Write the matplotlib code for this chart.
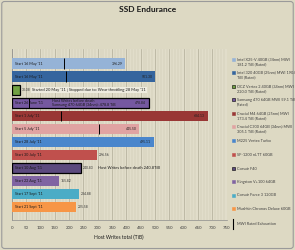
import numpy as np
import matplotlib.pyplot as plt
from matplotlib.patches import Rectangle, FancyBboxPatch
from matplotlib.lines import Line2D

plt.rcParams['font.family'] = ['Lato', 'DejaVu Sans']

# data
drives = ['Intel X25-V 40GB (34nm) MWI\n181.2 TiB (Rated)',
          'Intel 320 40GB (25nm) MWI 190.0\nTiB (Rated)',
          'OCZ Vertex 2 40GB (34nm) MWI\n220.0 TiB (Rated)',
          'Samsung 470 64GB MWI 59.1 TiB\n(Rated)',
          'Crucial M4 64GB (25nm) MWI\n173.4 TiB (Rated)',
          'Crucial C300 64GB (34nm) MWI\n305.1 TiB (Rated)',
          'M225 Vertex Turbo',
          'SF-1200 nLTT 60GB',
          'Corsair F40',
          'Kingston V+100 64GB',
          'Corsair Force 3 120GB',
          'Mushkin Chronos Deluxe 60GB']
starts = ["Start 16 May '11", "Start 16 May '11", "", "Start 26 June '11",
          "Start 1 July '11", "Start 5 July '11", "Start 28 July '11",
          "Start 30 July '11", "Start 10 Aug '11", "Start 22 Aug '11",
          "Start 17 Sept '11", "Start 21 Sept '11"]
host_writes = [396.29, 501.30, 30.08, 478.84, 684.13, 445.50, 495.11,
               296.56, 240.83, 165.82, 234.88, 225.58]
mwi_rated = [181.2, 190.0, None, 59.1, 173.4, 305.1, None, None, None, None, None, None]
colors = ['#95B3D7', '#35659E', '#71A243', '#7558A0', '#993735', '#E0A3A2',
          '#4A86CC', '#C0504D', '#5C4A7E', '#8064A2', '#4BACC6', '#F79646']
edges = [None, None, 'black', 'black', None, None, None, None, 'black', None, None, None]
inside_label = [True, True, False, True, True, True, True, False, False, False, False, False]

bg = '#DDD9C3'
fig = plt.figure(figsize=(2.95, 2.5), dpi=100, facecolor=bg)
fig.patches.append(FancyBboxPatch((0.006, 0.006), 0.988, 0.988, boxstyle='round,pad=0,rounding_size=0.01',
                                  transform=fig.transFigure, fill=False, edgecolor='#9A9A9A', lw=0.8))
ax = fig.add_axes([0.0397, 0.12, 0.729, 0.684])
ax.set_facecolor('#E1DDCA')

y = np.arange(len(drives))
for i in y:
    ec = edges[i] if edges[i] else 'none'
    ax.barh(i, host_writes[i], height=0.84, color=colors[i], edgecolor=ec,
            linewidth=0.9 if edges[i] else 0, zorder=3)
    if mwi_rated[i] is not None:
        ax.vlines(mwi_rated[i], i - 0.42, i + 0.42, color='black', lw=0.7, zorder=4)
    if starts[i]:
        ax.text(10, i, starts[i], fontsize=2.7, va='center', ha='left', color='#1a1a1a', zorder=5)
    lab = '%.2f' % host_writes[i]
    if inside_label[i]:
        ax.text(host_writes[i] - 10, i, lab, fontsize=2.5, va='center', ha='right', color='#222222', zorder=5)
    else:
        ax.text(host_writes[i] + 6, i, lab, fontsize=2.4, va='center', ha='left', color='#333333', zorder=5)

# annotations
ax.text(70, 2, "Started 20 May '11 | Stopped due to: Wear throttling 28 May '11", fontsize=2.9,
        va='center', ha='left', color='#1a1a1a', zorder=5,
        bbox=dict(boxstyle='square,pad=0.3', facecolor='#EEEBDF', edgecolor='none'))
ax.text(140, 3, "Host Writes before death\nSamsung 470 64GB (34nm): 478.8 TiB", fontsize=2.7,
        va='center', ha='left', color='#1a1a1a', zorder=5, linespacing=1.3)
ax.text(300, 8, "Host Writes before death 240.8TiB", fontsize=2.9,
        va='center', ha='left', color='#1a1a1a', zorder=5)

ax.set_xlim(0, 750)
ax.set_ylim(12.0, -1.15)
ax.set_yticks([])
ax.set_xticks(np.arange(0, 751, 50))
ax.set_xticks(np.arange(0, 751, 10), minor=True)
ax.grid(axis='x', which='minor', color='#CBC7B1', lw=0.35, zorder=0)
ax.grid(axis='x', which='major', color='#B4B09C', lw=0.55, zorder=0)
ax.tick_params(axis='x', which='both', length=0, labelsize=3.2, labelcolor='#404040', pad=4)
for s in ['top', 'right']:
    ax.spines[s].set_visible(False)
ax.spines['left'].set_color('#8C8C8C')
ax.spines['left'].set_linewidth(0.5)
ax.spines['bottom'].set_color('#8C8C8C')
ax.spines['bottom'].set_linewidth(0.5)
ax.set_xlabel('Host Writes total (TiB)', fontsize=3.6, color='#1a1a1a', labelpad=4)

fig.text(0.5, 0.963, 'SSD Endurance', fontsize=6, fontweight='bold', ha='center', va='center', color='#1a1a1a')

# legend
leg_y = [59, 72, 86, 99, 113, 126, 140, 154, 168, 181, 195, 208]
for i, name in enumerate(drives):
    yy = 1 - leg_y[i] / 250
    fig.patches.append(Rectangle((0.787, yy - 0.007), 0.009, 0.011, transform=fig.transFigure,
                                 facecolor=colors[i], edgecolor=edges[i] if edges[i] else colors[i], lw=0.4))
    fig.text(0.802, yy + 0.006, name, fontsize=2.8, ha='left', va='top', color='#404040', linespacing=1.4)
fig.lines.append(Line2D([0.790, 0.790], [1 - 219 / 250, 1 - 229 / 250], transform=fig.transFigure,
                        color='black', lw=0.8))
fig.text(0.802, 1 - 224 / 250, 'MWI Rated Exhaustion', fontsize=2.8, ha='left', va='center', color='#404040')

fig.savefig('out.png', dpi=100, facecolor=bg)
